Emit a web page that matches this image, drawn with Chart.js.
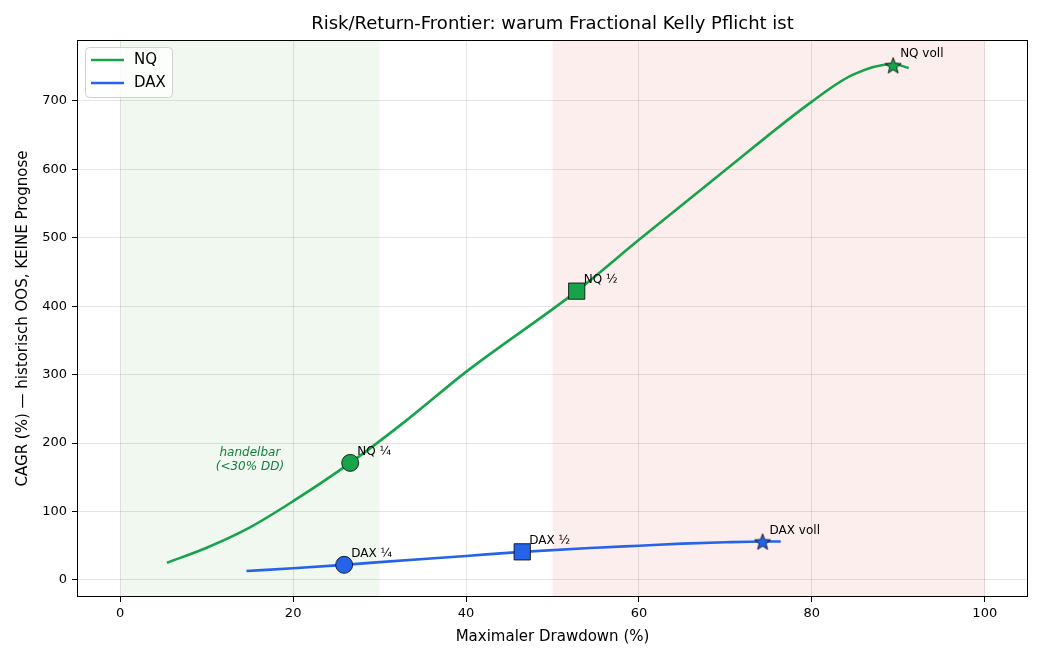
<!DOCTYPE html>
<html>
<head>
<meta charset="utf-8">
<script src="https://cdn.jsdelivr.net/npm/chart.js@4.4.1/dist/chart.umd.min.js"></script>
<style>
  html, body { margin: 0; padding: 0; background: #fff; }
  #wrap { width: 1045px; height: 660px; }
</style>
</head>
<body>
<div id="wrap"><canvas id="chart" width="1045" height="660"></canvas></div>
<script>
// NQ frontier curve (drawdown %, CAGR %)
const nqDrawdown = [5.4, 10, 14.9, 20, 26.6, 33, 40, 52.8, 60, 70, 80, 84.7, 89.4, 91.2];
const nqCagr     = [25, 47, 76, 115, 171, 232, 304, 422, 497, 599, 699, 738, 754, 748];

// DAX frontier curve
const daxDrawdown = [14.6, 20, 25.9, 30, 40, 46.5, 55, 60, 65, 70, 74.3, 76.4];
const daxCagr     = [13, 17, 22, 26, 35, 41, 47, 50, 53, 55, 56, 56];

// Kelly fraction markers
const markerLabelsNq  = ['NQ ¼', 'NQ ½', 'NQ voll'];
const markerDdNq      = [26.6, 52.8, 89.4];
const markerCagrNq    = [171, 422, 752];
const markerLabelsDax = ['DAX ¼', 'DAX ½', 'DAX voll'];
const markerDdDax     = [25.9, 46.5, 74.3];
const markerCagrDax   = [22, 41, 56];

// zones
const greenZone = [0, 30];
const redZone = [50, 100];

const xTicks = [0, 20, 40, 60, 80, 100];
const yTicks = [0, 100, 200, 300, 400, 500, 600, 700];

const NQ_COLOR = '#16a34a';
const DAX_COLOR = '#2563eb';

Chart.defaults.font.family = "'DejaVu Sans', sans-serif";
Chart.defaults.color = '#000';

function makeStar(fill) {
  const c = document.createElement('canvas');
  c.width = 20; c.height = 20;
  const g = c.getContext('2d');
  const R = 8.5, r = 3.6;
  g.beginPath();
  for (let i = 0; i < 10; i++) {
    const a = -Math.PI / 2 + i * Math.PI / 5;
    const rad = i % 2 === 0 ? R : r;
    const px = 10 + rad * Math.cos(a), py = 10.8 + rad * Math.sin(a);
    if (i === 0) g.moveTo(px, py); else g.lineTo(px, py);
  }
  g.closePath();
  g.fillStyle = fill;
  g.fill();
  g.lineWidth = 0.8;
  g.strokeStyle = '#000';
  g.stroke();
  return c;
}

const toXY = (xs, ys) => xs.map((x, i) => ({ x: x, y: ys[i] }));

const extras = {
  id: 'extras',
  beforeDraw(chart) {
    const { ctx, chartArea: a, scales: { x } } = chart;
    ctx.save();
    ctx.fillStyle = '#fff';
    ctx.fillRect(0, 0, chart.width, chart.height);
    ctx.fillStyle = 'rgba(0,128,0,0.06)';
    ctx.fillRect(x.getPixelForValue(greenZone[0]), a.top, x.getPixelForValue(greenZone[1]) - x.getPixelForValue(greenZone[0]), a.bottom - a.top);
    ctx.fillStyle = 'rgba(230,30,30,0.075)';
    ctx.fillRect(x.getPixelForValue(redZone[0]), a.top, x.getPixelForValue(redZone[1]) - x.getPixelForValue(redZone[0]), a.bottom - a.top);
    ctx.restore();
  },
  afterDatasetsDraw(chart) {
    const { ctx, scales: { x, y } } = chart;
    ctx.save();
    ctx.font = "12px 'DejaVu Sans'";
    ctx.fillStyle = '#000';
    ctx.textBaseline = 'middle';
    const put = (labels, xs, ys) => labels.forEach((t, i) => {
      ctx.fillText(t, x.getPixelForValue(xs[i]) + 7, y.getPixelForValue(ys[i]) - 11);
    });
    put(markerLabelsNq, markerDdNq, markerCagrNq);
    put(markerLabelsDax, markerDdDax, markerCagrDax);

    // zone annotation
    ctx.font = "italic 12px 'DejaVu Sans'";
    ctx.fillStyle = '#15803d';
    ctx.textAlign = 'center';
    ctx.fillText('handelbar', x.getPixelForValue(15), y.getPixelForValue(185));
    ctx.fillText('(<30% DD)', x.getPixelForValue(15), y.getPixelForValue(165));
    ctx.restore();
  },
  afterDraw(chart) {
    const { ctx, chartArea: a } = chart;
    ctx.save();
    // frame
    ctx.strokeStyle = '#000';
    ctx.lineWidth = 1;
    ctx.strokeRect(a.left + 0.5, a.top + 0.5, a.right - a.left - 1, a.bottom - a.top - 1);

    // title
    ctx.font = "18px 'DejaVu Sans'";
    ctx.fillStyle = '#000';
    ctx.textAlign = 'center';
    ctx.textBaseline = 'middle';
    ctx.fillText('Risk/Return-Frontier: warum Fractional Kelly Pflicht ist', (a.left + a.right) / 2, 24);

    // legend box
    const lx = a.left + 8, ly = a.top + 7, lw = 87, lh = 50;
    ctx.beginPath();
    ctx.roundRect(lx + 0.5, ly + 0.5, lw, lh, 4);
    ctx.fillStyle = 'rgba(255,255,255,0.8)';
    ctx.fill();
    ctx.strokeStyle = '#d0d0d0';
    ctx.stroke();
    const rows = [['NQ', NQ_COLOR], ['DAX', DAX_COLOR]];
    ctx.textAlign = 'left';
    ctx.font = "15px 'DejaVu Sans'";
    rows.forEach(([t, c], i) => {
      const yy = ly + 13 + i * 23;
      ctx.strokeStyle = c;
      ctx.lineWidth = 2.5;
      ctx.beginPath();
      ctx.moveTo(lx + 6, yy);
      ctx.lineTo(lx + 39, yy);
      ctx.stroke();
      ctx.fillStyle = '#000';
      ctx.fillText(t, lx + 49, yy);
    });
    ctx.restore();
  }
};

new Chart(document.getElementById('chart'), {
  type: 'scatter',
  data: {
    datasets: [
      {
        label: 'NQ Marker',
        data: toXY(markerDdNq, markerCagrNq),
        showLine: false,
        order: 0,
        backgroundColor: NQ_COLOR,
        borderColor: '#000',
        pointBorderWidth: 0.8,
        pointStyle: ['circle', 'rect', makeStar(NQ_COLOR)],
        pointRadius: [8.5, 11.5, 10]
      },
      {
        label: 'DAX Marker',
        data: toXY(markerDdDax, markerCagrDax),
        showLine: false,
        order: 0,
        backgroundColor: DAX_COLOR,
        borderColor: '#000',
        pointBorderWidth: 0.8,
        pointStyle: ['circle', 'rect', makeStar(DAX_COLOR)],
        pointRadius: [8.5, 11.5, 10]
      },
      {
        label: 'NQ',
        data: toXY(nqDrawdown, nqCagr),
        showLine: true,
        order: 1,
        borderColor: NQ_COLOR,
        borderWidth: 2.6,
        pointRadius: 0,
        cubicInterpolationMode: 'monotone'
      },
      {
        label: 'DAX',
        data: toXY(daxDrawdown, daxCagr),
        showLine: true,
        order: 1,
        borderColor: DAX_COLOR,
        borderWidth: 2.6,
        pointRadius: 0,
        cubicInterpolationMode: 'monotone'
      }
    ]
  },
  options: {
    responsive: false,
    animation: false,
    layout: { padding: { top: 40, right: 17, left: 0, bottom: 0 } },
    plugins: {
      legend: { display: false },
      tooltip: { enabled: false }
    },
    scales: {
      x: {
        type: 'linear',
        min: -5,
        max: 105,
        afterBuildTicks: s => { s.ticks = xTicks.map(v => ({ value: v })); },
        afterFit: s => { s.height = 63; },
        grid: { color: 'rgba(0,0,0,0.1)', tickColor: '#000', tickLength: 5 },
        border: { display: false },
        ticks: { font: { size: 13 }, color: '#000', padding: 4, maxRotation: 0 },
        title: { display: true, text: 'Maximaler Drawdown (%)', font: { size: 15 }, padding: { top: 0, bottom: 14 } }
      },
      y: {
        type: 'linear',
        min: -25,
        max: 789,
        afterBuildTicks: s => { s.ticks = yTicks.map(v => ({ value: v })); },
        afterFit: s => { s.width = 77; },
        grid: { color: 'rgba(0,0,0,0.1)', tickColor: '#000', tickLength: 5 },
        border: { display: false },
        ticks: { font: { size: 13 }, color: '#000', padding: 5 },
        title: { display: true, text: 'CAGR (%) — historisch OOS, KEINE Prognose', font: { size: 15 }, padding: { top: 14, bottom: 0 } }
      }
    }
  },
  plugins: [extras]
});
</script>
</body>
</html>
